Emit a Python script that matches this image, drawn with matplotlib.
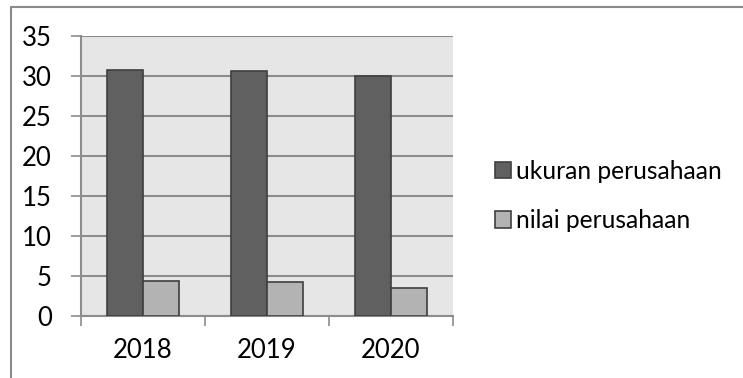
import matplotlib.pyplot as plt
from matplotlib.patches import Rectangle
import numpy as np

plt.rcParams['font.family'] = ['Lato', 'DejaVu Sans']

years = ['2018', '2019', '2020']
ukuran = [30.65, 30.53, 30.0]
nilai = [4.4, 4.28, 3.49]

dark = '#606060'
light = '#b3b3b3'
edge = '#3f3f3f'
grid = '#8c8c8c'

fig = plt.figure(figsize=(7.43, 3.78), dpi=100)
ax = fig.add_axes([81 / 743, 62 / 378, 372 / 743, 280.5 / 378])
ax.set_facecolor('#e6e6e6')

x = np.arange(len(years))
w = 0.29
b1 = ax.bar(x - w / 2, ukuran, w, color=dark, edgecolor=edge, linewidth=1.2,
            label='ukuran perusahaan', zorder=3)
b2 = ax.bar(x + w / 2, nilai, w, color=light, edgecolor=edge, linewidth=1.2,
            label='nilai perusahaan', zorder=3)

ax.set_ylim(0, 35)
ax.set_yticks(range(0, 36, 5))
ax.yaxis.grid(True, color=grid, linewidth=1.5, zorder=1)
ax.set_axisbelow(True)

# category boundaries get the tick marks, centres get the labels
ax.set_xlim(-0.5, 2.5)
ax.set_xticks([-0.5, 0.5, 1.5, 2.5])
ax.set_xticklabels([])
ax.set_xticks(x, minor=True)
ax.set_xticklabels(years, minor=True)
ax.tick_params(axis='x', which='major', length=7, width=1.2, color=grid, direction='out')
ax.tick_params(axis='x', which='minor', length=0, pad=16, labelsize=18.5)
ax.tick_params(axis='y', length=7, width=1.2, color=grid, pad=14, labelsize=18.5)

for s in ['top', 'right']:
    ax.spines[s].set_visible(False)
for s in ['left', 'bottom']:
    ax.spines[s].set_color(grid)
    ax.spines[s].set_linewidth(1.5)

leg = fig.legend(handles=[b1, b2], loc='center left', bbox_to_anchor=(495 / 743, 1 - 196 / 378),
                 frameon=False, fontsize=18, handlelength=0.63, handleheight=0.63,
                 handletextpad=0.22, labelspacing=1.05, borderpad=0, borderaxespad=0)

# size the legend labels so the longer one spans about 205 px
fig.canvas.draw()
r = fig.canvas.get_renderer()
wide = max(t.get_window_extent(r).width for t in leg.get_texts())
for t in leg.get_texts():
    t.set_fontsize(min(18 * 205 / wide, 20))

# outer chart border
fig.patches.append(Rectangle((11 / 743, -0.1), 1.2, 1.1 - 6.5 / 378,
                             transform=fig.transFigure, fill=False,
                             edgecolor='#8a8a8a', linewidth=1.5))

fig.savefig('out.png', dpi=100)
